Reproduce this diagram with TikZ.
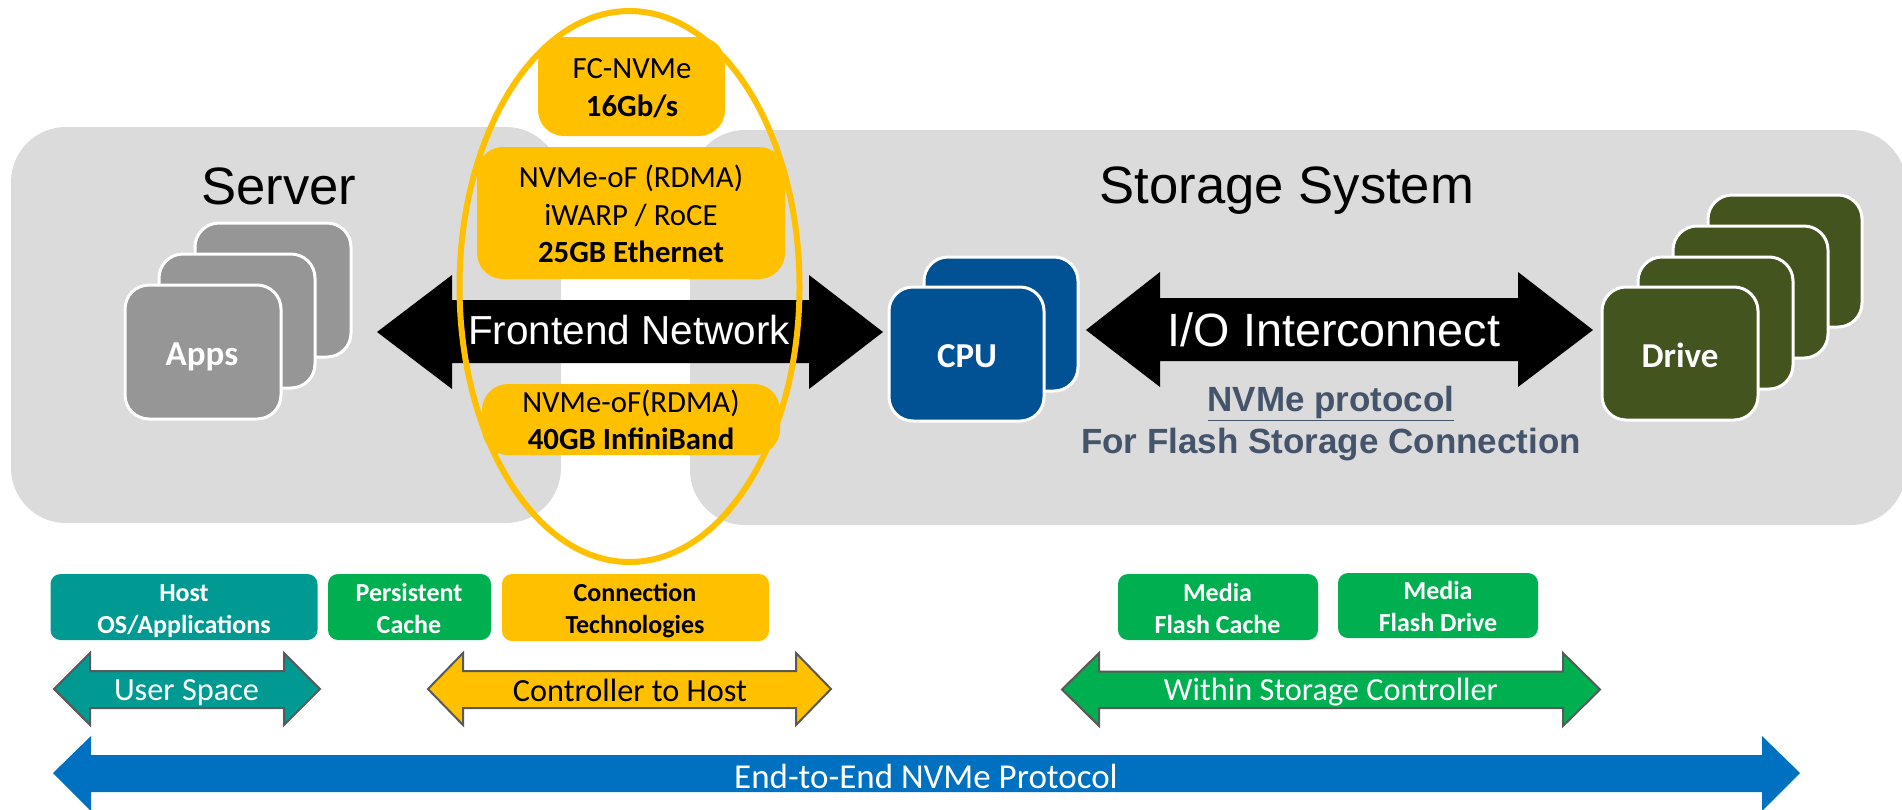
\documentclass[tikz,border=0pt]{standalone}
\usepackage{fontspec}
\setmainfont{Carlito}
\newfontfamily\arialf{Liberation Sans}
\definecolor{panelgray}{HTML}{DBDBDB}
\definecolor{amber}{HTML}{FFC000}
\definecolor{tealbox}{HTML}{009A92}
\definecolor{greenbox}{HTML}{00B050}
\definecolor{bluebar}{HTML}{0070C0}
\definecolor{appsgray}{HTML}{969696}
\definecolor{cpublue}{HTML}{005294}
\definecolor{driveolive}{HTML}{43541F}
\definecolor{slatetext}{HTML}{44546A}
\definecolor{edgegray}{HTML}{595959}
\newcommand{\fs}[1]{\fontsize{#1}{#1}\selectfont}
\tikzset{
  x=1pt,y=-1pt,
  panel/.style={fill=panelgray,draw=none,rounded corners=55pt},
  card/.style={fill=#1,draw=white,line width=3pt,rounded corners=24pt},
  cardlabel/.style={text=white,font=\fs{35}\bfseries,inner sep=0pt},
  amberbox/.style={fill=amber,draw=none,rounded corners=26pt},
  amberlabel/.style={text=black,align=center,font=\fontsize{30.8}{37.5}\selectfont,inner sep=0pt},
  tagbox/.style={fill=#1,draw=none,rounded corners=10pt},
  taglabel/.style={align=center,font=\fontsize{26}{32}\selectfont\bfseries,inner sep=0pt},
  bigarrow/.style={fill=black,draw=none},
  smallarrow/.style={fill=#1,draw=edgegray,line width=2pt,line join=miter},
  arrowtext/.style={inner sep=0pt,font=\fs{32.3}},
}
\begin{document}
\begin{tikzpicture}
\clip (0,0) rectangle (1902,809);
% panels
\path[panel] (11,127) rectangle (561,523);
\path[panel] (690,130) rectangle (1906,525);
% Apps stack
\path[card=appsgray] (195,223) rectangle (351,357);
\path[card=appsgray] (159,254) rectangle (315,388);
\path[card=appsgray] (125,285) rectangle (281,419);
\node[cardlabel] (apps) at (202,357) {Apps};
% CPU stack
\path[card=cpublue] (924,257) rectangle (1078,391);
\path[card=cpublue] (889,287) rectangle (1044,421);
\node[cardlabel] (cpu) at (967,356) {CPU};
% Drive stack
\path[card=driveolive] (1708,195) rectangle (1862,327);
\path[card=driveolive] (1673,226) rectangle (1828,358);
\path[card=driveolive] (1638,257) rectangle (1793,389);
\path[card=driveolive] (1602,287) rectangle (1758,420);
\node[cardlabel] (drive) at (1680,355) {Drive};
% titles
\node[inner sep=0pt,font=\arialf\fs{52.6}] (server) at (279,186) {Server};
\node[inner sep=0pt,font=\arialf\fs{52.6}] (storage) at (1287,191) {Storage System};
% amber protocol boxes
\path[amberbox] (538,37) rectangle (725,136);
\path[amberbox] (477,147) rectangle (785,279);
\path[amberbox] (482,384) rectangle (780,455);
% big arrows
\path[bigarrow] (377,332) -- (452,275) -- (452,300) -- (809,300) -- (809,275) -- (883,332) -- (809,389) -- (809,363) -- (452,363) -- (452,389) -- cycle;
\path[bigarrow] (1086,330) -- (1160,272) -- (1160,298) -- (1518,298) -- (1518,272) -- (1593,330) -- (1518,387) -- (1518,361) -- (1160,361) -- (1160,387) -- cycle;
% amber labels
\node[amberlabel] (fc) at (632,88) {FC-NVMe\\\textbf{16Gb/s}};
\node[amberlabel] (roce) at (631,214) {NVMe-oF (RDMA)\\iWARP / RoCE\\\textbf{25GB Ethernet}};
\node[amberlabel] (ib) at (631,420) {NVMe-oF(RDMA)\\\textbf{40GB InfiniBand}};
% ellipse
\draw[amber,line width=6pt] (629.5,286.5) ellipse [x radius=170,y radius=275.5];
% arrow labels
\node[inner sep=0pt,text=white,font=\arialf\fs{40.5}] (frontend) at (629,330) {Frontend Network};
\node[inner sep=0pt,text=white,font=\arialf\fs{46.7}] (io) at (1334,330) {I/O Interconnect};
\node[inner sep=0pt,text=slatetext,font=\arialf\bfseries\fs{35}] (nvmep) at (1331,403) {\underline{NVMe protocol}};
\node[inner sep=0pt,text=slatetext,font=\arialf\bfseries\fs{35}] (flash) at (1331,445) {For Flash Storage Connection};
% tag boxes
\path[tagbox=tealbox] (50.5,574) rectangle (317.5,640);
\node[taglabel,text=white] (host) at (184,611) {Host\\OS/Applications};
\path[tagbox=greenbox] (328,574) rectangle (491,640);
\node[taglabel,text=white] (pc) at (409,608) {Persistent\\Cache};
\path[tagbox=amber] (502,574) rectangle (769,641);
\node[taglabel,text=black] (conn) at (635,611) {Connection\\Technologies};
\path[tagbox=greenbox] (1118,574) rectangle (1318,640);
\node[taglabel,text=white] (mfc) at (1217.5,608) {Media\\Flash Cache};
\path[tagbox=greenbox] (1338,573) rectangle (1538,638);
\node[taglabel,text=white] (mfd) at (1438,606) {Media\\Flash Drive};
% small arrows
\path[smallarrow=tealbox] (54,689) -- (90,653) -- (90,671) -- (284,671) -- (284,653) -- (320,689) -- (284,725) -- (284,708) -- (90,708) -- (90,725) -- cycle;
\node[arrowtext,text=white] (us) at (186.5,693) {User Space};
\path[smallarrow=amber] (428,689) -- (463,653) -- (463,671) -- (796,671) -- (796,653) -- (831,689) -- (796,725) -- (796,708) -- (463,708) -- (463,725) -- cycle;
\node[arrowtext,text=black] (c2h) at (630,690) {Controller to Host};
\path[smallarrow=greenbox] (1062,689.5) -- (1099,653) -- (1099,671.5) -- (1563,671.5) -- (1563,653) -- (1600,689.5) -- (1563,726) -- (1563,708) -- (1099,708) -- (1099,726) -- cycle;
\node[arrowtext,text=white] (wsc) at (1331,692) {Within Storage Controller};
\path[fill=bluebar] (53,773) -- (91,736) -- (91,755) -- (1762,755) -- (1762,736) -- (1800,773) -- (1762,811) -- (1762,792) -- (91,792) -- (91,811) -- cycle;
\node[arrowtext,text=white,font=\fs{35}] (e2e) at (926,776) {End-to-End NVMe Protocol};
\end{tikzpicture}
\end{document}
